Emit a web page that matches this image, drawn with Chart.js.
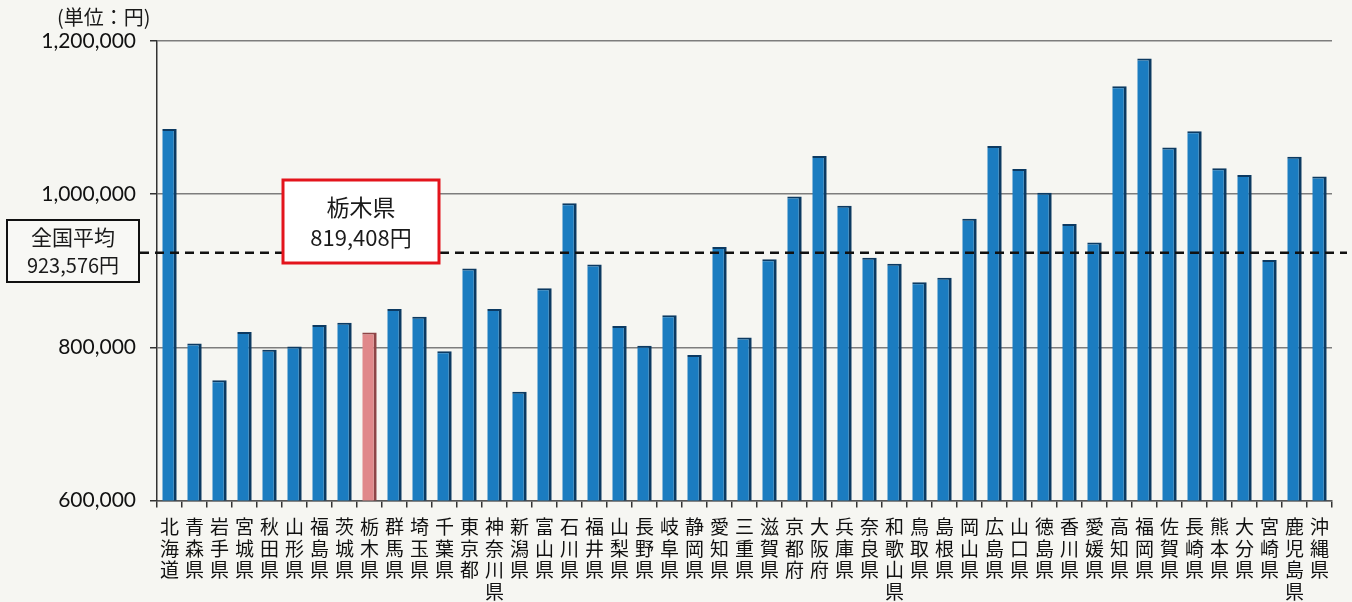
<!DOCTYPE html>
<html lang="ja">
<head>
<meta charset="utf-8">
<title>都道府県別 一人当たり金額</title>
<script src="https://cdn.jsdelivr.net/npm/chart.js@4.4.1/dist/chart.umd.min.js"></script>
<style>
  html, body { margin: 0; padding: 0; background: #f6f6f2; }
  #wrap { position: relative; width: 1352px; height: 602px; }
  canvas { display: block; }
</style>
</head>
<body>
<div id="wrap"><canvas id="c" width="1352" height="602"></canvas></div>
<script>
// 都道府県名
const prefectures = [
  '北海道','青森県','岩手県','宮城県','秋田県','山形県','福島県','茨城県','栃木県','群馬県',
  '埼玉県','千葉県','東京都','神奈川県','新潟県','富山県','石川県','福井県','山梨県','長野県',
  '岐阜県','静岡県','愛知県','三重県','滋賀県','京都府','大阪府','兵庫県','奈良県','和歌山県',
  '鳥取県','島根県','岡山県','広島県','山口県','徳島県','香川県','愛媛県','高知県','福岡県',
  '佐賀県','長崎県','熊本県','大分県','宮崎県','鹿児島県','沖縄県'
];

// 金額（円）
const amounts = [
  1085000, 805000, 757000, 820000, 797000, 801000, 829000, 832000, 819408, 850000,
   840000, 795000, 903000, 850000, 742000, 877000, 988000, 908000, 828000, 802000,
   842000, 790000, 931000, 813000, 915000, 997000, 1050000, 985000, 917000, 909000,
   885000, 891000, 968000, 1063000, 1033000, 1002000, 961000, 937000, 1141000, 1177000,
  1061000, 1082000, 1034000, 1025000, 914000, 1049000, 1023000
];

// 全国平均と強調する県
const nationalAverage = 923576;
const highlightName = '栃木県';

// 縦軸の目盛り
const yTicks = [600000, 800000, 1000000, 1200000];

const fmt = v => v.toLocaleString('en-US');
const hiIndex = prefectures.indexOf(highlightName);

const fillColors = prefectures.map((_, i) => i === hiIndex ? '#e0888a' : '#1b7cc0');
const edgeColors = prefectures.map((_, i) => i === hiIndex ? '#8e4446' : '#0c3a62');

// 全国平均の破線と注記ボックス
const overlay = {
  id: 'overlay',
  afterDatasetsDraw(chart) {
    const { ctx } = chart;
    const y = chart.scales.y.getPixelForValue(nationalAverage);
    ctx.save();
    ctx.strokeStyle = '#111';
    ctx.lineWidth = 2.5;
    ctx.setLineDash([9, 6]);
    ctx.beginPath();
    ctx.moveTo(140, y);
    ctx.lineTo(1347, y);
    ctx.stroke();
    ctx.setLineDash([]);

    // 全国平均ボックス
    ctx.fillStyle = '#f8f8f5';
    ctx.fillRect(7, 220, 132, 62);
    ctx.strokeStyle = '#111';
    ctx.lineWidth = 2;
    ctx.strokeRect(7, 220, 132, 62);
    ctx.fillStyle = '#1a1a1a';
    ctx.textAlign = 'center';
    ctx.textBaseline = 'middle';
    ctx.font = '21px "Noto Sans CJK JP"';
    ctx.fillText('全国平均', 73, 237);
    ctx.font = '20px "Noto Sans CJK JP"';
    ctx.fillText(fmt(nationalAverage) + '円', 73, 265);

    // 強調県ボックス
    ctx.fillStyle = '#ffffff';
    ctx.fillRect(283, 180, 156, 83);
    ctx.strokeStyle = '#e3141c';
    ctx.lineWidth = 3;
    ctx.strokeRect(283, 180, 156, 83);
    ctx.fillStyle = '#1a1a1a';
    ctx.font = '23px "Noto Sans CJK JP"';
    ctx.fillText(highlightName, 361, 207);
    ctx.font = '22px "Noto Sans CJK JP"';
    ctx.fillText(fmt(amounts[hiIndex]) + '円', 361, 238);

    // 単位
    ctx.font = '20px "Noto Sans CJK JP"';
    ctx.textAlign = 'left';
    ctx.fillText('(単位：円)', 57, 17);
    ctx.restore();
  }
};

new Chart(document.getElementById('c'), {
  type: 'bar',
  data: {
    labels: prefectures.map(p => p.split('')),
    datasets: [{
      data: amounts,
      backgroundColor: fillColors,
      borderColor: edgeColors,
      borderWidth: { left: 0, right: 3, top: 2, bottom: 0 },
      borderSkipped: false,
      barPercentage: 0.64,
      categoryPercentage: 0.9
    }]
  },
  options: {
    responsive: false,
    animation: false,
    events: [],
    layout: { padding: { top: 41, right: 20, left: 0, bottom: 0 } },
    plugins: { legend: { display: false }, tooltip: { enabled: false } },
    scales: {
      x: {
        offset: true,
        grid: { offset: true, drawOnChartArea: false, drawTicks: true, tickLength: 7, color: '#333', lineWidth: 1.5 },
        border: { display: true, color: '#555', width: 1.5 },
        ticks: {
          autoSkip: false, maxRotation: 0, minRotation: 0, padding: 9,
          color: '#111',
          font: { family: '"Noto Sans CJK JP"', size: 19, lineHeight: 1.13 }
        },
        afterFit(scale) { scale.height = 101.5; }
      },
      y: {
        min: 600000, max: 1200000,
        afterBuildTicks(scale) { scale.ticks = yTicks.map(v => ({ value: v })); },
        grid: { color: '#7d7d7d', lineWidth: 1.5, tickLength: 7, tickColor: '#333' },
        border: { display: true, color: '#333', width: 1.5 },
        ticks: {
          color: '#111', padding: 14,
          font: { family: 'Lato', size: 21 },
          callback: v => fmt(v)
        },
        afterFit(scale) { scale.width = 157; }
      }
    }
  },
  plugins: [overlay]
});
</script>
</body>
</html>
